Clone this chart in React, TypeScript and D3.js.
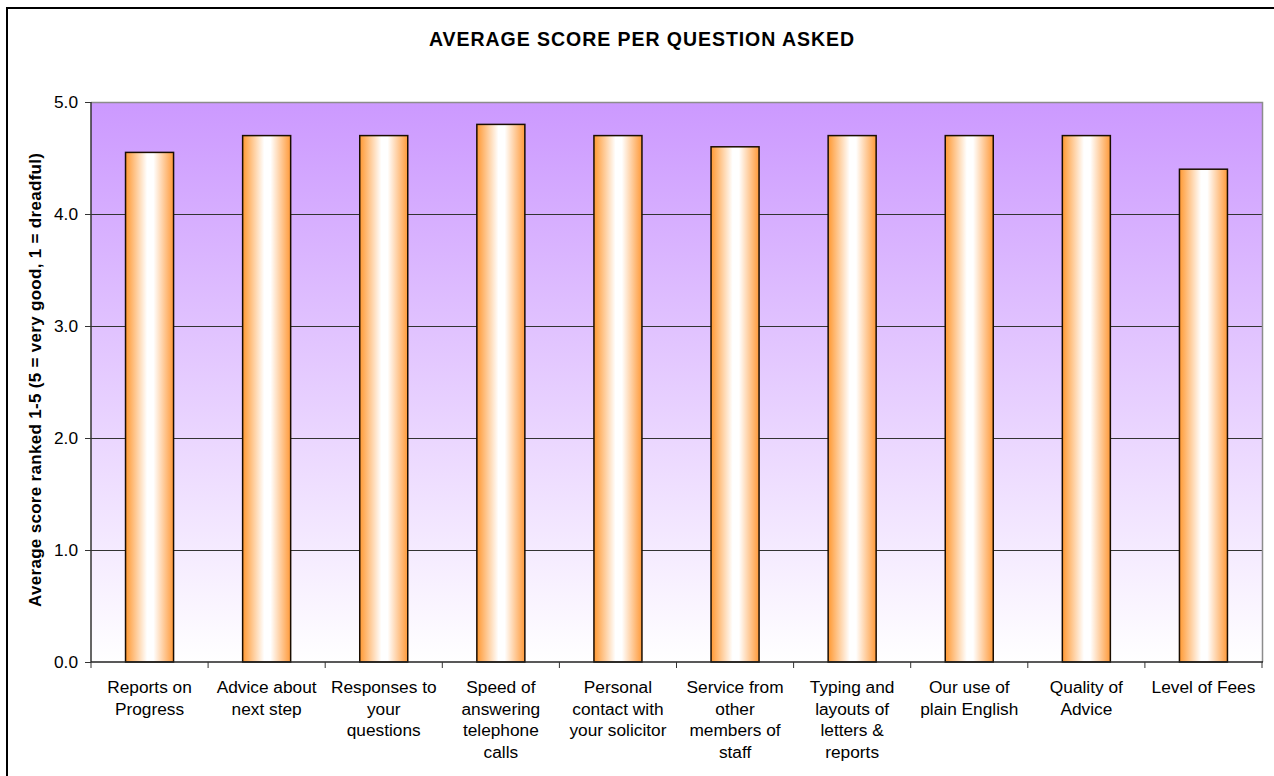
import React from 'react';
import * as d3 from 'd3';

const categories = [
  'Reports on\nProgress',
  'Advice about\nnext step',
  'Responses to\nyour\nquestions',
  'Speed of\nanswering\ntelephone\ncalls',
  'Personal\ncontact with\nyour solicitor',
  'Service from\nother\nmembers of\nstaff',
  'Typing and\nlayouts of\nletters &\nreports',
  'Our use of\nplain English',
  'Quality of\nAdvice',
  'Level of Fees',
];
const scores = [4.55, 4.7, 4.7, 4.8, 4.7, 4.6, 4.7, 4.7, 4.7, 4.4];
const yTicks = [0, 1, 2, 3, 4, 5];

const title = 'AVERAGE SCORE PER QUESTION ASKED';
const yTitle = 'Average score ranked 1-5  (5 = very good, 1 = dreadful)';

const W = 1274;
const H = 776;
const plot = { left: 91, right: 1262, top: 102, bottom: 662 };
const font = 'Arial, "Liberation Sans", sans-serif';

export default function App() {
  const x = d3.scaleBand<number>()
    .domain(d3.range(categories.length))
    .range([plot.left, plot.right])
    .paddingInner(0.59)
    .paddingOuter(0.295);

  const y = d3.scaleLinear()
    .domain([0, 5])
    .range([plot.bottom, plot.top]);

  const step = x.step();

  return (
    <div style={{ position: 'absolute', left: 0, top: 0 }}>
      <svg width={W} height={H} style={{ display: 'block' }}>
        <defs>
          <linearGradient id="plotBg" x1="0" y1="0" x2="0" y2="1">
            <stop offset="0" stopColor="#cc99ff" />
            <stop offset="1" stopColor="#ffffff" />
          </linearGradient>
          <linearGradient id="barFill" x1="0" y1="0" x2="1" y2="0">
            <stop offset="0" stopColor="#ff9933" />
            <stop offset="0.45" stopColor="#ffffff" />
            <stop offset="0.58" stopColor="#ffffff" />
            <stop offset="1" stopColor="#ff9a3a" />
          </linearGradient>
        </defs>

        <rect x={0} y={0} width={W} height={H} fill="#fff" />
        <rect x={7} y={8} width={W + 40} height={H + 40} fill="none" stroke="#000" strokeWidth={2} />

        <text x={641.5} y={46} textAnchor="middle" fontFamily={font} fontWeight="bold"
          fontSize={19.5} textLength={425} lengthAdjust="spacing">{title}</text>

        <rect x={plot.left} y={plot.top} width={plot.right - plot.left} height={plot.bottom - plot.top}
          fill="url(#plotBg)" />

        {yTicks.filter(t => t > 0 && t < 5).map(t => (
          <line key={t} x1={plot.left} x2={plot.right} y1={y(t) + 0.5} y2={y(t) + 0.5} stroke="#333" strokeWidth={1} />
        ))}

        <path d={`M${plot.left},${plot.top + 0.5}H${plot.right + 0.5}V${plot.bottom}`} fill="none" stroke="#8c8c8c" strokeWidth={1.5} />

        {scores.map((v, i) => (
          <rect key={i} x={x(i)!} y={y(v)} width={x.bandwidth()} height={y(0) - y(v)}
            fill="url(#barFill)" stroke="#1a0d00" strokeWidth={1.5} />
        ))}

        <line x1={plot.left} x2={plot.left} y1={plot.top} y2={plot.bottom} stroke="#333" strokeWidth={1.5} />
        <line x1={plot.left} x2={plot.right + 1} y1={plot.bottom} y2={plot.bottom} stroke="#222" strokeWidth={1.5} />

        {yTicks.map(t => (
          <g key={t}>
            <line x1={plot.left - 6} x2={plot.left} y1={y(t) + 0.5} y2={y(t) + 0.5} stroke="#333" strokeWidth={1} />
            <text x={78} y={y(t)} dy="0.36em" textAnchor="end" fontFamily={font} fontSize={17.3}>{t.toFixed(1)}</text>
          </g>
        ))}

        {d3.range(categories.length + 1).map(i => {
          const tx = plot.left + i * step;
          return <line key={i} x1={tx} x2={tx} y1={plot.bottom} y2={plot.bottom + 6} stroke="#333" strokeWidth={1} />;
        })}

        {categories.map((c, i) => (
          <text key={i} textAnchor="middle" fontFamily={font} fontSize={17.3}>
            {c.split('\n').map((line, j) => (
              <tspan key={j} x={x(i)! + x.bandwidth() / 2} y={693 + j * 21.7}>{line}</tspan>
            ))}
          </text>
        ))}

        <text transform="translate(41,380) rotate(-90)" textAnchor="middle" fontFamily={font}
          fontWeight="bold" fontSize={17} textLength={454} lengthAdjust="spacing">{yTitle}</text>
      </svg>
    </div>
  );
}
